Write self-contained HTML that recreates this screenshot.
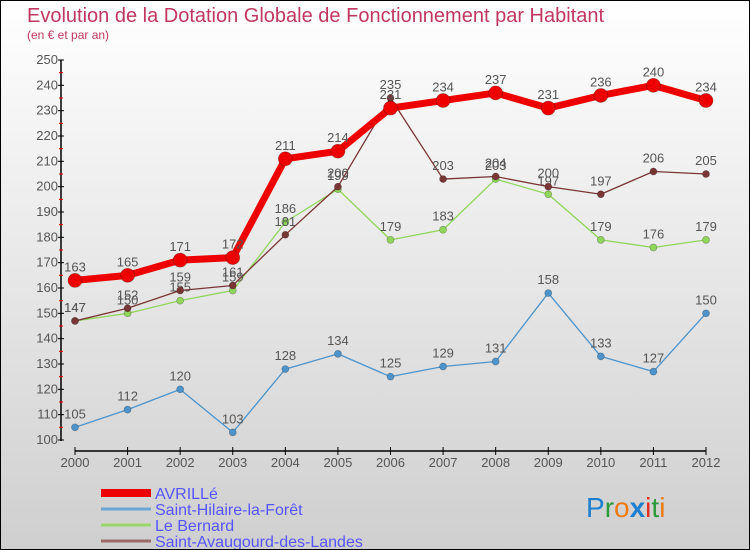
<!DOCTYPE html>
<html><head><meta charset="utf-8"><style>
body{margin:0;}
#wrap{width:748px;height:548px;border:1px solid #000;position:relative;background:linear-gradient(#ffffff,#cfcfcf);font-family:"Liberation Sans",sans-serif;overflow:hidden}
</style></head><body>
<div id="wrap">
<svg id="chart" width="748" height="548">
<text x="26" y="21" font-size="20" fill="#c0385f">Evolution de la Dotation Globale de Fonctionnement par Habitant</text>
<text x="26" y="38" font-size="12" fill="#c0385f">(en € et par an)</text>
<g id="axes"></g><g id="series"></g><g id="legend"></g>
<text x="585" y="516" font-size="28"><tspan fill="#1e7fd0">P</tspan><tspan fill="#2a9a3a">r</tspan><tspan fill="#f07a10">o</tspan><tspan fill="#1e7fd0" font-weight="bold">x</tspan><tspan fill="#e03020">i</tspan><tspan fill="#2a9a3a">t</tspan><tspan fill="#f07a10">i</tspan></text>
</svg>
</div>
<script>
const years=[2000,2001,2002,2003,2004,2005,2006,2007,2008,2009,2010,2011,2012];
const yTicks=[100,110,120,130,140,150,160,170,180,190,200,210,220,230,240,250];
const avrille=[163,165,171,172,211,214,231,234,237,231,236,240,234];
const hilaire=[105,112,120,103,128,134,125,129,131,158,133,127,150];
const bernard=[147,150,155,159,186,199,179,183,203,197,179,176,179];
const avaugourd=[147,152,159,161,181,200,235,203,204,200,197,206,205];
const names=["AVRILLé","Saint-Hilaire-la-Forêt","Le Bernard","Saint-Avaugourd-des-Landes"];
const NS="http://www.w3.org/2000/svg";
const X=i=>74+i*(631/12);
const Y=v=>439-(v-100)*(380/150);
function mk(p,t,a){const e=document.createElementNS(NS,t);for(const k in a)e.setAttribute(k,a[k]);p.appendChild(e);return e;}
const ax=document.getElementById('axes');
let l=mk(ax,'line',{x1:60,y1:Y(250),x2:60,y2:Y(100)+1,stroke:'#000','stroke-width':1.5});

l=mk(ax,'line',{x1:X(0),y1:450,x2:X(12),y2:450,stroke:'#000','stroke-width':1.5});

yTicks.forEach((v,i)=>{
 mk(ax,'line',{x1:57,y1:Y(v),x2:63,y2:Y(v),stroke:'#000'});
 if(i<yTicks.length-1)mk(ax,'line',{x1:58,y1:Y(v+5),x2:62,y2:Y(v+5),stroke:'#e00'});
 const t=mk(ax,'text',{x:57,y:Y(v)+4,'font-size':13,fill:'#555','text-anchor':'end'});t.textContent=v;
 
});
years.forEach((y,i)=>{
 mk(ax,'line',{x1:X(i),y1:446,x2:X(i),y2:454,stroke:'#000'});
 const t=mk(ax,'text',{x:X(i),y:466,'font-size':13,fill:'#555','text-anchor':'middle'});t.textContent=y;
 
});
const sg=document.getElementById('series');
function draw(data,color,w,r,name){
 const g=mk(sg,'g',{});
 
 mk(g,'polyline',{points:data.map((v,i)=>X(i)+','+Y(v)).join(' '),fill:'none',stroke:color,'stroke-width':w,'stroke-linejoin':'round'});
 data.forEach((v,i)=>{
  const c=mk(g,'circle',{cx:X(i),cy:Y(v),r:r,fill:color,stroke:'rgba(0,0,0,0.3)','stroke-width':0.7});
  
  const t=mk(g,'text',{x:X(i),y:Y(v)-9,'font-size':13,fill:'#555','text-anchor':'middle'});t.textContent=v;
  
 });
}
draw(hilaire,'#4d94cc',1.3,3.5,'series-saint-hilaire');
draw(bernard,'#8fd65a',1.3,3.5,'series-le-bernard');
draw(avaugourd,'#7a3535',1.3,3.5,'series-saint-avaugourd');
draw(avrille,'#ee0000',7,7,'series-avrille');
const lg=document.getElementById('legend');
const cols=['#ee0000','#6aa6d6','#9ad66a','#9a6a6a'],ws=[8,3,3,3];
names.forEach((n,i)=>{
 const y=492+i*16;
 mk(lg,'line',{x1:100,y1:y,x2:150,y2:y,stroke:cols[i],'stroke-width':ws[i]});
 const t=mk(lg,'text',{x:154,y:y+6,'font-size':16,fill:'#5555ff'});t.textContent=n;
 
});
</script>
</body></html>
